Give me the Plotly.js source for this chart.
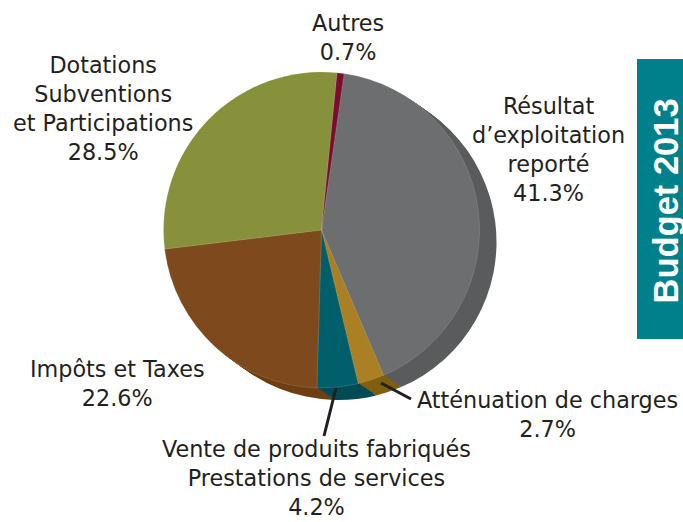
<!DOCTYPE html>
<html><head><meta charset="utf-8">
<script src="https://cdn.plot.ly/plotly-3.0.1.min.js"></script>
<style>html,body{margin:0;padding:0;background:#fff}#c{width:683px;height:522px}</style>
</head><body><div id="c"></div>
<script>
const categories = ["Résultat d'exploitation reporté","Atténuation de charges","Vente de produits fabriqués, Prestations de services","Impôts et Taxes","Dotations Subventions et Participations","Autres"];
const shares = [41.3,2.7,4.2,22.6,28.5,0.7];
const frontColors = ["#6d6e70","#ab7f24","#005f6a","#7e4a1d","#87903a","#7a0c30"];
const sideColors = ["#5a5b5d","#7f5f10","#004b55","#6f3f14","#87903a","#7a0c30"];
const labelTexts = ["Autres<br>0.7%","Dotations<br>Subventions<br>et Participations<br>28.5%","Résultat<br>d’exploitation<br>reporté<br>41.3%","Impôts et Taxes<br>22.6%","Atténuation de charges<br>2.7%","Vente de produits fabriqués<br>Prestations de services<br>4.2%"];
const labelAnchors = [[348,38],[103,108.5],[548,149.5],[117,383],[547,414],[316,478]];
const sideTitle = "Budget 2013";

const W=683,H=522,R=158,CX=321.5,CY=230,DX=17,DY=12,LAYERS=8,FONT='"DejaVu Sans", sans-serif';
function pie(dx,dy,colors,lineColor,lineW){
  return {type:'pie',labels:categories,values:shares,sort:false,direction:'clockwise',rotation:8.2,
    textinfo:'none',hoverinfo:'skip',showlegend:false,
    marker:{colors:colors,line:{color:lineColor,width:lineW}},
    domain:{x:[(CX+dx-R)/W,(CX+dx+R)/W],y:[1-(CY+dy+R)/H,1-(CY+dy-R)/H]}};
}
const traces=[];
for(let k=LAYERS;k>=1;k--) traces.push(pie(DX*k/LAYERS,DY*k/LAYERS,sideColors,'rgba(0,0,0,0)',0));
traces.push(pie(0,0,frontColors,'rgba(255,255,255,0.25)',0.5));
const annotations=labelTexts.map((t,i)=>({text:t,x:labelAnchors[i][0]/W,y:1-labelAnchors[i][1]/H,xref:'paper',yref:'paper',xanchor:'center',yanchor:'middle',align:'center',showarrow:false,font:{family:FONT,size:22.3,color:'#231f20'}}));
annotations.push({text:'<b>'+sideTitle+'</b>',x:665/W,y:1-201.5/H,xref:'paper',yref:'paper',xanchor:'center',yanchor:'middle',textangle:-90,showarrow:false,font:{family:'"Liberation Sans", sans-serif',size:34.5,color:'#fff'}});
const shapes=[
 {type:'rect',xref:'paper',yref:'paper',x0:637/W,x1:1,y0:1-339/H,y1:1-59/H,fillcolor:'#00808a',line:{width:0},layer:'below'},
 {type:'line',xref:'paper',yref:'paper',x0:381/W,y0:1-383/H,x1:411/W,y1:1-399/H,line:{color:'#231f20',width:3}},
 {type:'line',xref:'paper',yref:'paper',x0:336/W,y0:1-388/H,x1:324/W,y1:1-436/H,line:{color:'#231f20',width:3}}
];
Plotly.newPlot('c',traces,{width:W,height:H,margin:{l:0,r:0,t:0,b:0},paper_bgcolor:'#fff',annotations,shapes},{displayModeBar:false,staticPlot:true});
</script></body></html>
